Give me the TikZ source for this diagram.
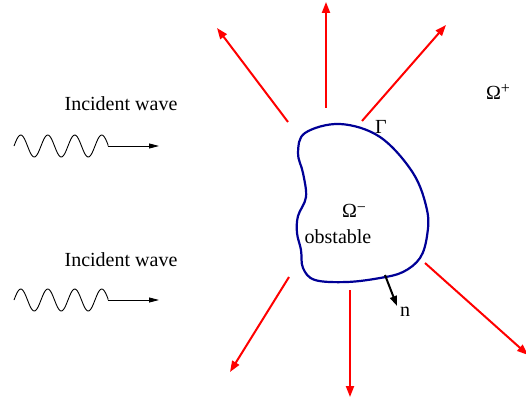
\documentclass[tikz,border=0pt]{standalone}
\usepackage{fontspec}
\setmainfont{Liberation Serif}
\usetikzlibrary{positioning, arrows.meta}

\definecolor{obstblue}{RGB}{0,0,150}
\newcommand{\supsign}[1]{\raisebox{0.6ex}{\fontsize{16}{16}\selectfont #1}}

\begin{document}
\begin{tikzpicture}[
		x=1pt, y=-1pt,
		label/.style={font=\fontsize{20}{24}\selectfont, inner sep=0pt},
		scattered/.style={red, line width=2pt, -{Triangle[length=11pt,width=8pt]}},
		incident/.style={black, line width=0.9pt},
		normal/.style={black, line width=2pt, -{Triangle[length=10pt,width=7pt]}},
		boundary/.style={obstblue, line width=2.2pt}
		]
		\useasboundingbox (0,0) rectangle (526,398);
		
		% --- Incident waves ---
		\node[label] (inc1) at (121,104) {Incident wave};
		\node[label] (inc2) at (121,260) {Incident wave};
		
		\coordinate (w1) at (108,146);
		\coordinate (a1) at (159,146);
		\coordinate (w2) at (108,300);
		\coordinate (a2) at (159,300);
		
		\draw[incident] plot[domain=0:94, samples=90, smooth] ({14+\x},{146-11*sin(\x/27*360)}) -- (w1);
		\draw[incident, -{Triangle[length=10pt,width=5pt]}] (w1) -- (a1);
		\draw[incident] plot[domain=0:94, samples=90, smooth] ({14+\x},{300-11*sin(\x/27*360)}) -- (w2);
		\draw[incident, -{Triangle[length=10pt,width=5pt]}] (w2) -- (a2);
		
		% --- Obstacle ---
		\draw[boundary] plot[smooth cycle, tension=0.6] coordinates {
			(340,124) (380,137) (413,173) (427,210) (427,236) (420,258)
			(403,272) (380,278) (347,282) (315,280) (303,268) (301,250)
			(297,233) (298,216) (306,197) (303,173) (298,153) (305,133)};
		
		\node[label] (gamma) at (381,127) {Γ};
		\node[label] (omin) at (354,211) {Ω\supsign{−}};
		\node[label] (obst) at (338,237) {obstable};
		\node[label] (oplus) at (498,92) {Ω\supsign{+}};
		
		% Normal vector
		\coordinate (nfoot) at (385,275);
		\coordinate (ntip) at (397,306);
		\draw[normal] (nfoot) -- (ntip);
		\node[label] (nlab) at (405,312) {n};
		
		% --- Scattered waves ---
		\coordinate (s1) at (288,122);  \coordinate (e1) at (217,28);
		\coordinate (s2) at (326,108);  \coordinate (e2) at (326,2);
		\coordinate (s3) at (362,121);  \coordinate (e3) at (446,25);
		\coordinate (s4) at (289,277);  \coordinate (e4) at (230,372);
		\coordinate (s5) at (350,290);  \coordinate (e5) at (350,397);
		\coordinate (s6) at (425,263);  \coordinate (e6) at (528,355);
		
		\draw[scattered] (s1) -- (e1);
		\draw[scattered] (s2) -- (e2);
		\draw[scattered] (s3) -- (e3);
		\draw[scattered] (s4) -- (e4);
		\draw[scattered] (s5) -- (e5);
		\draw[scattered] (s6) -- (e6);
		
	\end{tikzpicture}
\end{document}
